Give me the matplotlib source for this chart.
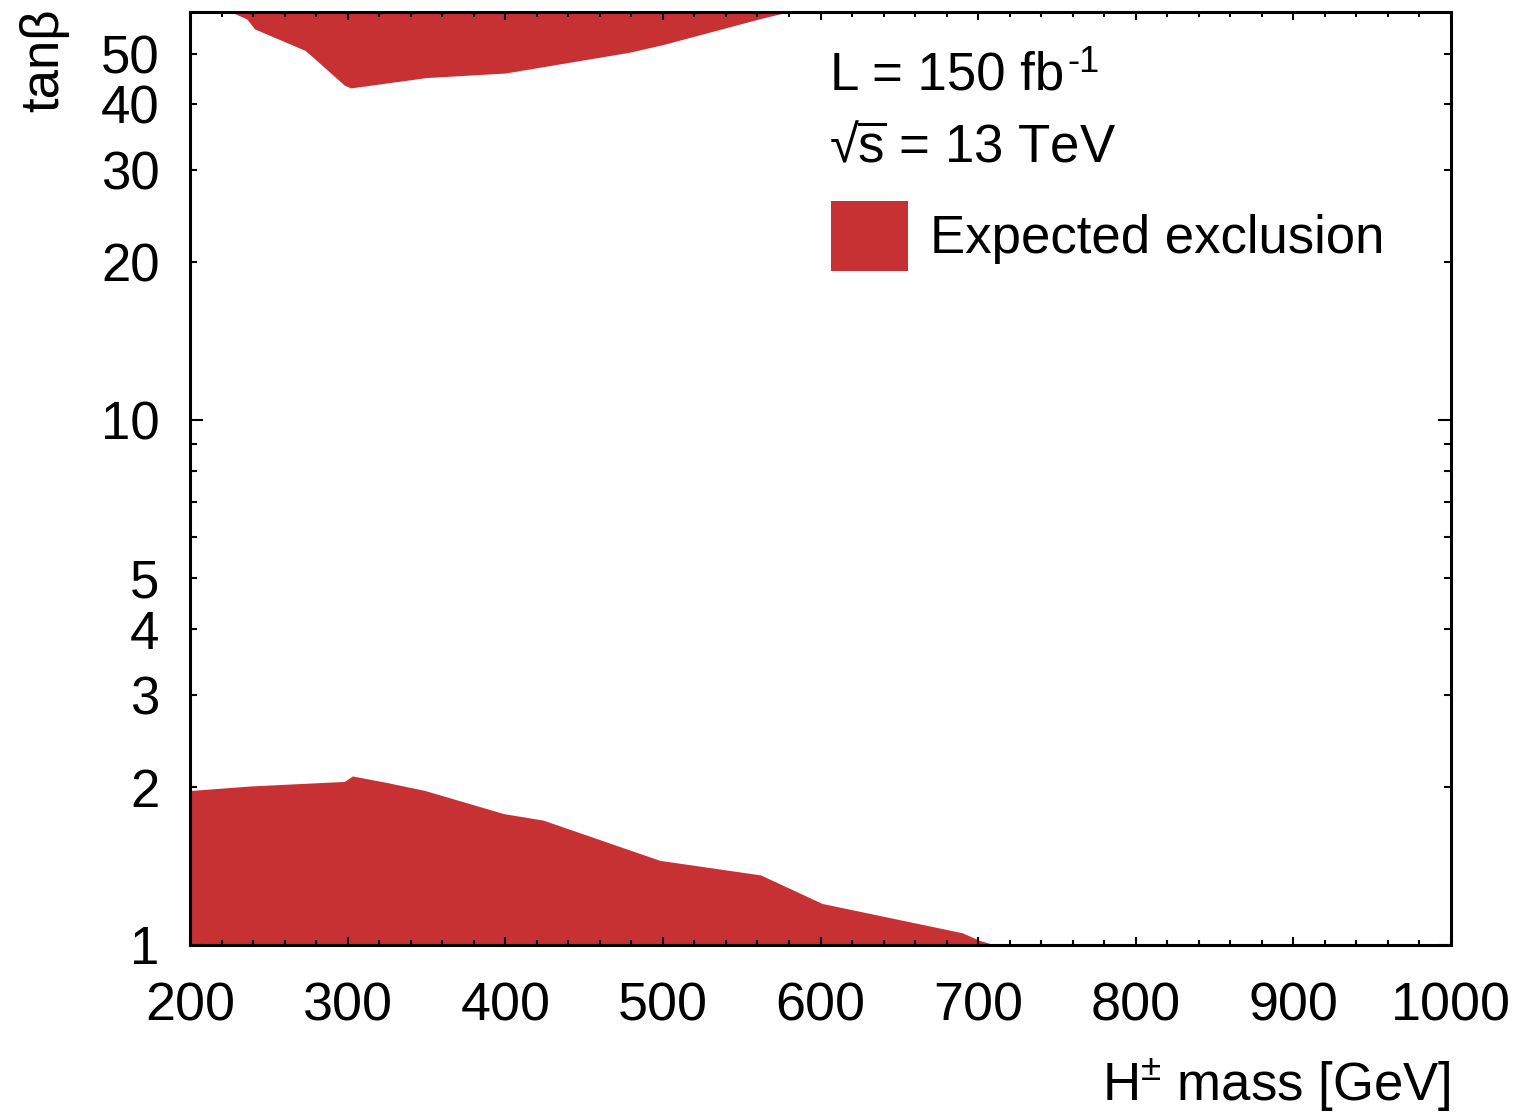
import numpy as np
import matplotlib
matplotlib.use('Agg')
import matplotlib.pyplot as plt
from matplotlib.patches import Patch
from matplotlib.ticker import FixedLocator, FixedFormatter

plt.rcParams['font.family'] = ['Liberation Sans', 'DejaVu Sans']
plt.rcParams['mathtext.fontset'] = 'custom'
plt.rcParams['mathtext.rm'] = 'Liberation Sans'
plt.rcParams['mathtext.it'] = 'Liberation Sans:italic'
plt.rcParams['mathtext.bf'] = 'Liberation Sans:bold'

# expected exclusion, low tan(beta) region (filled from tanb=1 up to boundary)
low_mass = [200, 239, 298, 303, 325, 349, 399, 424, 498, 562, 601, 690, 701, 711]
low_tanb = [1.97, 2.01, 2.05, 2.10, 2.04, 1.97, 1.78, 1.73, 1.45, 1.36, 1.20, 1.055, 1.02, 1.0]

# expected exclusion, high tan(beta) region (filled from boundary up to top)
high_mass = [226, 236, 241, 273, 278, 298, 302, 350, 400, 479, 500, 561, 579]
high_tanb = [60, 58.2, 55.7, 50.7, 49.2, 43.5, 43.0, 45.0, 45.9, 50.3, 52.0, 58.2, 60]

y_labels = [1, 2, 3, 4, 5, 10, 20, 30, 40, 50]
y_minor = [2, 3, 4, 5, 6, 7, 8, 9, 20, 30, 40, 50]
x_major = list(range(200, 1001, 100))
x_minor = list(range(200, 1001, 20))

red = '#c73134'
fs = 38

fig = plt.figure(figsize=(15.2, 11.15), dpi=100)
ax = fig.add_axes([190/1520, 1-945/1115, (1451-190)/1520, (945-12)/1115])

ax.fill_between(low_mass, 1, low_tanb, color=red, lw=0)
ax.fill_between(high_mass, high_tanb, 60, color=red, lw=0)

ax.set_xlim(200, 1000)
ax.set_yscale('log')
ax.set_ylim(1, 60)

ax.xaxis.set_major_locator(FixedLocator(x_major))
ax.xaxis.set_minor_locator(FixedLocator(x_minor))
ax.yaxis.set_major_locator(FixedLocator([1, 10]))
ax.yaxis.set_major_formatter(FixedFormatter(['1', '10']))
ax.yaxis.set_minor_locator(FixedLocator(y_minor))
minor_lab = [str(v) if v in y_labels else '' for v in y_minor]
ax.yaxis.set_minor_formatter(FixedFormatter(minor_lab))

for s in ax.spines.values():
    s.set_linewidth(2.2)

ax.tick_params(axis='both', which='both', direction='in', top=True, right=True,
               width=1.5, labelsize=fs)
ax.tick_params(axis='x', which='major', length=6, pad=26, labelsize=38.8)
ax.tick_params(axis='x', which='minor', length=3.5)
ax.tick_params(axis='y', which='major', length=9.5, pad=22)
ax.tick_params(axis='y', which='minor', length=5, pad=22, labelsize=fs)

# luminosity and energy labels
t1 = fig.text(830/1520, 1-90/1115, 'L = 150 fb', fontsize=fs, va='baseline')
ax.annotate('-1', xy=(1, 1), xycoords=t1, xytext=(2, 4), textcoords='offset points',
            fontsize=26, ha='left', va='top')
fig.text(829/1520, 1-162/1115, r'√$\overline{\mathregular{s}}$ = 13 TeV', fontsize=fs, va='baseline')

handle = Patch(facecolor=red, edgecolor='none', label='Expected exclusion')
ax.legend(handles=[handle], loc='upper left', bbox_to_anchor=(831/1520, 1-201/1115),
          bbox_transform=fig.transFigure, frameon=False, fontsize=fs,
          borderpad=0, borderaxespad=0, handlelength=1.46, handleheight=1.65,
          handletextpad=0.42)

fig.text(1451/1520, 1-1100/1115, r'H$^{\pm}$ mass [GeV]', fontsize=fs, ha='right', va='baseline')
fig.text(69/1520, 1-8/1115, 'tanβ', fontsize=fs, rotation=90, ha='right', va='top')

fig.savefig('out.png', dpi=100)
